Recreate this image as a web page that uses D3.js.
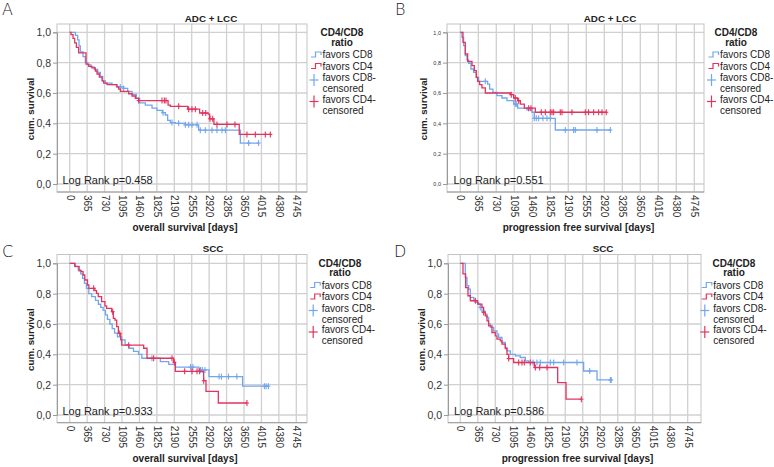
<!DOCTYPE html>
<html>
<head>
<meta charset="utf-8">
<script src="https://cdn.jsdelivr.net/npm/d3@7"></script>
<style>
  html, body { margin: 0; padding: 0; background: #fff; }
  svg { display: block; font-family: "Liberation Sans", Arial, sans-serif; }
</style>
</head>
<body>
<svg id="chart" width="774" height="467"></svg>
<script>
// ---------------- data ----------------
const xTickValues = [0, 365, 730, 1095, 1460, 1825, 2190, 2555, 2920, 3285, 3650, 4015, 4380, 4745];
const yTickValues = [0, 0.2, 0.4, 0.6, 0.8, 1.0];
const panelLetters = ["A", "B", "C", "D"];
const panelTitles = ["ADC + LCC", "ADC + LCC", "SCC", "SCC"];
const xAxisTitles = ["overall survival [days]", "progression free survival [days]", "overall survival [days]", "progression free survival [days]"];
const yAxisTitle = "cum. survival";
const logRankP = ["0.458", "0.551", "0.933", "0.586"];
const legendTitle = ["CD4/CD8", "ratio"];
const seriesNames = ["favors CD8", "favors CD4"];
const censoredNames = [["favors CD8-", "censored"], ["favors CD4-", "censored"]];

// steps: [day, survival after the drop]; censored: days of censor marks
const aCD8Steps = [[119,0.98],[167,0.95],[195,0.91],[223,0.87],[279,0.84],[328,0.80],[377,0.785],[447,0.77],[516,0.755],[586,0.735],[642,0.71],[691,0.68],[747,0.665],[886,0.655],[977,0.64],[1130,0.63],[1214,0.61],[1305,0.59],[1396,0.565],[1465,0.535],[1584,0.52],[1724,0.50],[1828,0.485],[1940,0.47],[2003,0.455],[2051,0.42],[2107,0.405],[2212,0.40],[2421,0.39],[2700,0.355],[3573,0.27]];
const aCD8Cens = [1060,1130,1954,2142,2282,2421,2491,2561,2666,2735,2840,2980,3084,3189,3259,3747,3956];
const aCD4Steps = [[28,0.985],[70,0.96],[105,0.93],[140,0.90],[188,0.865],[342,0.79],[398,0.775],[467,0.765],[537,0.745],[572,0.725],[621,0.705],[677,0.68],[712,0.665],[782,0.655],[991,0.64],[1026,0.625],[1061,0.61],[1235,0.595],[1305,0.58],[1375,0.565],[1444,0.55],[2060,0.52],[2107,0.512],[2470,0.493],[2721,0.468],[2900,0.46],[2930,0.43],[3020,0.393],[3550,0.327]];
const aCD4Cens = [1444,1933,1982,2016,2282,2491,2561,2631,2785,2848,2938,2994,3084,3294,3461,3712,3887,4096,4201];

const bCD8Steps = [[34,0.967],[68,0.912],[101,0.846],[135,0.818],[169,0.796],[216,0.758],[270,0.736],[324,0.703],[372,0.677],[554,0.659],[595,0.626],[662,0.604],[743,0.582],[845,0.567],[946,0.549],[1081,0.527],[1163,0.50],[1352,0.488],[1453,0.473],[1500,0.433],[1926,0.356]];
const bCD8Cens = [507,1115,1135,1500,1541,1588,1676,1757,1825,2129,2298,2332,2771,3042];
const bCD4Steps = [[54,0.934],[101,0.857],[149,0.809],[237,0.78],[284,0.747],[324,0.703],[351,0.677],[392,0.655],[439,0.633],[507,0.60],[1014,0.589],[1081,0.567],[1163,0.549],[1217,0.527],[1298,0.50],[1521,0.473]];
const bCD4Cens = [1034,1115,1183,1386,1433,1642,1724,1825,1859,1893,2028,2062,2264,2535,2602,2704,2805,2873,2960];

const cCD8Steps = [[120,0.978],[180,0.956],[230,0.93],[270,0.90],[310,0.868],[350,0.835],[400,0.80],[460,0.78],[540,0.755],[600,0.73],[650,0.71],[700,0.69],[750,0.66],[790,0.63],[840,0.60],[890,0.57],[940,0.54],[1000,0.515],[1090,0.495],[1160,0.462],[1240,0.44],[1336,0.42],[1441,0.40],[1511,0.374],[1898,0.352],[2074,0.334],[2214,0.316],[2707,0.297],[2917,0.253],[3620,0.19]];
const cCD8Cens = [1722,2531,2580,2742,2777,2833,3128,3178,3325,3501,4077,4113,4162];
const cCD4Steps = [[105,0.98],[197,0.95],[246,0.945],[281,0.923],[316,0.89],[373,0.857],[401,0.835],[527,0.82],[562,0.802],[598,0.78],[668,0.747],[738,0.719],[773,0.703],[879,0.681],[914,0.637],[949,0.626],[984,0.582],[1019,0.538],[1068,0.495],[1090,0.46],[1549,0.44],[1619,0.374],[2177,0.347],[2212,0.288],[2805,0.226],[2854,0.156],[3112,0.079]];
const cCD4Cens = [502,900,1047,1235,1758,2142,2191,2407,2561,2666,2721,2805,3712];

const dCD8Steps = [[104,0.907],[139,0.852],[174,0.83],[209,0.775],[278,0.764],[313,0.742],[383,0.731],[417,0.709],[452,0.683],[522,0.665],[557,0.643],[591,0.60],[626,0.577],[696,0.555],[765,0.533],[800,0.511],[870,0.478],[939,0.445],[974,0.423],[1044,0.40],[1148,0.39],[1252,0.379],[1357,0.357],[1426,0.346],[2574,0.29],[2853,0.231]];
const dCD8Cens = [417,1517,1600,1670,1879,1948,2157,2435,2700,3131,3150];
const dCD4Steps = [[56,0.93],[111,0.84],[160,0.786],[209,0.753],[362,0.731],[452,0.709],[487,0.676],[522,0.654],[557,0.621],[591,0.588],[661,0.544],[730,0.522],[765,0.50],[835,0.489],[870,0.467],[939,0.438],[974,0.40],[1009,0.372],[1113,0.346],[1545,0.313],[2032,0.214],[2206,0.104]];
const dCD4Cens = [313,487,1009,1218,1287,1336,1461,1566,1656,1809,2526];

const panelData = [
  [[aCD8Steps, aCD8Cens], [aCD4Steps, aCD4Cens]],
  [[bCD8Steps, bCD8Cens], [bCD4Steps, bCD4Cens]],
  [[cCD8Steps, cCD8Cens], [cCD4Steps, cCD4Cens]],
  [[dCD8Steps, dCD8Cens], [dCD4Steps, dCD4Cens]]
];

// ---------------- layout / style ----------------
const colors = ["#72a6ee", "#e2345f"];
const layouts = [
  {left: 57,  right: 307, top: 24,    bottom: 192,   x0: 69.7,  x1: 296.3, y1: 32.3,  y0: 184,  yFont: 10.5, letterX: 2,   letterY: 15,  titleX: 211, legTitleX: 342, legItemX: 322.5, yLabX: 31,  pX: 62.5},
  {left: 447, right: 704, top: 24,    bottom: 192,   x0: 460.3, x1: 694.3, y1: 32.3,  y0: 184,  yFont: 5.5,  letterX: 395, letterY: 15,  titleX: 610, legTitleX: 736, legItemX: 720,   yLabX: 424, pX: 453.5},
  {left: 57,  right: 307, top: 254.5, bottom: 422.7, x0: 69.7,  x1: 296.3, y1: 263.3, y0: 415,  yFont: 10.5, letterX: 2,   letterY: 257, titleX: 213, legTitleX: 340, legItemX: 321.7, yLabX: 31,  pX: 62.5},
  {left: 448, right: 701, top: 254.5, bottom: 422.7, x0: 460.3, x1: 687.7, y1: 263.3, y0: 415,  yFont: 10.5, letterX: 394, letterY: 257, titleX: 603, legTitleX: 734, legItemX: 713.3, yLabX: 422, pX: 454}
];

const svg = d3.select("#chart");
const commaFmt = v => d3.format(".1f")(v).replace(".", ",");

layouts.forEach((L, i) => {
  const g = svg.append("g");
  const x = d3.scaleLinear().domain([0, 4745]).range([L.x0, L.x1]);
  const y = d3.scaleLinear().domain([0, 1]).range([L.y0, L.y1]);

  // grid
  g.append("g").selectAll("line").data(xTickValues).join("line")
    .attr("x1", d => x(d)).attr("x2", d => x(d)).attr("y1", L.top).attr("y2", L.bottom)
    .attr("stroke", "#d0d0d0").attr("stroke-width", 1.3);
  g.append("g").selectAll("line").data(yTickValues).join("line")
    .attr("x1", L.left).attr("x2", L.right).attr("y1", d => y(d)).attr("y2", d => y(d))
    .attr("stroke", "#d0d0d0").attr("stroke-width", 1.3);
  // frame
  g.append("rect").attr("x", L.left).attr("y", L.top).attr("width", L.right - L.left).attr("height", L.bottom - L.top)
    .attr("fill", "none").attr("stroke", "#c4c4c4").attr("stroke-width", 1);

  // y axis
  const ya = g.append("g").attr("transform", `translate(${L.left},0)`)
    .call(d3.axisLeft(y).tickValues(yTickValues).tickFormat(commaFmt).tickSize(4).tickPadding(2));
  ya.select(".domain").attr("stroke", "#9a9a9a");
  ya.selectAll(".tick line").attr("stroke", "#9a9a9a");
  ya.selectAll("text").attr("font-size", L.yFont).attr("fill", "#333").attr("font-family", "Liberation Sans, Arial, sans-serif");

  // x axis
  const xa = g.append("g").attr("transform", `translate(0,${L.bottom})`)
    .call(d3.axisBottom(x).tickValues(xTickValues).tickFormat(d3.format("d")).tickSize(0).tickPadding(0));
  xa.select(".domain").remove();
  g.append("line").attr("x1", L.left).attr("x2", L.right).attr("y1", L.bottom).attr("y2", L.bottom).attr("stroke", "#9a9a9a");
  xa.selectAll("text")
    .attr("font-size", 10).attr("fill", "#333").attr("font-family", "Liberation Sans, Arial, sans-serif")
    .attr("text-anchor", "start").attr("dy", "0.35em").attr("y", 0)
    .attr("transform", "translate(0,3) rotate(90)");

  // curves
  panelData[i].forEach(([steps, cens], k) => {
    const lastStepT = steps[steps.length - 1][0];
    const tEnd = Math.max(lastStepT, d3.max(cens));
    const pts = [[0, 1]].concat(steps).concat([[tEnd, steps[steps.length - 1][1]]]);
    const line = d3.line().x(d => x(d[0])).y(d => y(d[1])).curve(d3.curveStepAfter);
    g.append("path").attr("d", line(pts)).attr("fill", "none")
      .attr("stroke", colors[k]).attr("stroke-width", 1.3);
    const survAt = t => { let s = 1; steps.forEach(st => { if (st[0] <= t) s = st[1]; }); return s; };
    const cg = g.append("g").attr("stroke", colors[k]).attr("stroke-width", 1.1);
    cens.forEach(t => {
      const cx = x(t), cy = y(survAt(t));
      cg.append("line").attr("x1", cx).attr("x2", cx).attr("y1", cy - 3).attr("y2", cy + 3);
      cg.append("line").attr("x1", cx - 2).attr("x2", cx + 2).attr("y1", cy).attr("y2", cy);
    });
  });

  // log rank text
  g.append("text").attr("x", L.pX).attr("y", L.y0 - 0.5).attr("font-size", 11).attr("fill", "#222")
    .text("Log Rank p=" + logRankP[i]);

  // titles
  g.append("text").attr("x", L.titleX).attr("y", L.top - 2.5).attr("text-anchor", "middle")
    .attr("font-size", 9.8).attr("font-weight", "bold").attr("fill", "#222").text(panelTitles[i]);
  g.append("text").attr("x", (L.left + L.right) / 2 + 3).attr("y", L.bottom + 39)
    .attr("text-anchor", "middle").attr("font-size", 10).attr("font-weight", "bold").attr("fill", "#222")
    .text(xAxisTitles[i]);
  g.append("text").attr("transform", `translate(${L.yLabX},${(L.top + L.bottom) / 2 + 1}) rotate(-90)`)
    .attr("text-anchor", "middle").attr("dy", "0.35em").attr("font-size", 9.8).attr("font-weight", "bold").attr("fill", "#222")
    .text(yAxisTitle);
  g.append("text").attr("x", L.letterX).attr("y", L.letterY).attr("font-size", 16).attr("fill", "#222")
    .attr("font-family", "DejaVu Sans, sans-serif").attr("font-weight", 300).text(panelLetters[i]);

  // legend
  const lg = g.append("g").attr("font-size", 10);
  legendTitle.forEach((t, j) => lg.append("text").attr("x", L.legTitleX).attr("y", L.top + 12 + j * 9.5)
    .attr("text-anchor", "middle").attr("font-weight", "bold").attr("fill", "#222").text(t));
  const rowY = [L.top + 34, L.top + 45.5];
  seriesNames.forEach((t, k) => {
    const b = rowY[k], cy = b - 3.5, x0 = L.legItemX - 11.5;
    lg.append("path").attr("d", `M${x0},${cy + 2.5}H${x0 + 4.5}V${cy - 2.5}H${x0 + 10}V${cy + 0.5}`)
      .attr("fill", "none").attr("stroke", colors[k]).attr("stroke-width", 1.2);
    lg.append("text").attr("x", L.legItemX).attr("y", b).attr("fill", "#222").text(t);
  });
  censoredNames.forEach((pair, k) => {
    const b1 = L.top + 57 + k * 21.5;
    const cx = L.legItemX - 8.5, cy = b1 - 1;
    lg.append("line").attr("x1", cx).attr("x2", cx).attr("y1", cy - 6).attr("y2", cy + 6).attr("stroke", colors[k]).attr("stroke-width", 1.2);
    lg.append("line").attr("x1", cx - 4.5).attr("x2", cx + 4.5).attr("y1", cy).attr("y2", cy).attr("stroke", colors[k]).attr("stroke-width", 1.2);
    lg.append("text").attr("x", L.legItemX).attr("y", b1).attr("fill", "#222").text(pair[0]);
    lg.append("text").attr("x", L.legItemX).attr("y", b1 + 11).attr("fill", "#222").text(pair[1]);
  });
});
</script>
</body>
</html>
